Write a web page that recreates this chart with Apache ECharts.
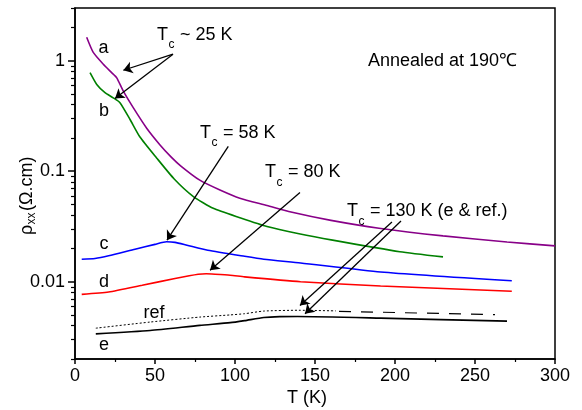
<!DOCTYPE html>
<html><head><meta charset="utf-8">
<script src="https://cdn.jsdelivr.net/npm/echarts@6.0.0/dist/echarts.min.js"></script>
<style>html,body{margin:0;padding:0;background:#fff}#c{width:582px;height:410px}</style>
</head><body><div id="c"></div>
<script>
const FONT = 'Liberation Sans, Arial, sans-serif';

// tick values
const yMajorTicks = [0.01, 0.1, 1];
const yMinorTicks = [0.002,0.003,0.004,0.005,0.006,0.007,0.008,0.009,
  0.02,0.03,0.04,0.05,0.06,0.07,0.08,0.09,
  0.2,0.3,0.4,0.5,0.6,0.7,0.8,0.9,2,3];

// curve a (purple)
const T_a   = [7.3, 11.4, 17.7, 22.9, 26.1, 30.2, 36.4, 44.8, 53, 60, 66, 78, 90.6, 103, 120, 135, 160, 190, 230, 270, 300];
const rho_a = [1.63, 1.19, 0.93, 0.78, 0.70, 0.53, 0.376, 0.245, 0.174, 0.135, 0.112, 0.083, 0.0676, 0.057, 0.049, 0.0427, 0.0359, 0.0305, 0.026, 0.0229, 0.0211];
// curve b (green)
const T_b   = [9.4, 13.6, 18.75, 23.9, 28.1, 34.4, 40.6, 51, 62, 74, 86.4, 103, 120, 140, 161, 203, 230];
const rho_b = [0.78, 0.61, 0.514, 0.462, 0.417, 0.294, 0.204, 0.132, 0.0851, 0.059, 0.0462, 0.038, 0.0316, 0.0272, 0.0238, 0.0187, 0.0168];
// curve c (blue)
const T_c   = [4.2, 12.5, 21, 37.5, 50, 57.3, 62.5, 70, 83, 106, 118, 141, 191, 273];
const rho_c = [0.0160, 0.01626, 0.01718, 0.0197, 0.0218, 0.0230, 0.0227, 0.0214, 0.0193, 0.0170, 0.0160, 0.0148, 0.01227, 0.0102];
// curve d (red)
const T_d   = [4.2, 21, 42, 62.5, 77, 82, 87.5, 97, 106, 141, 191, 273];
const rho_d = [0.00769, 0.00807, 0.00929, 0.0107, 0.0117, 0.0118, 0.0117, 0.01146, 0.01107, 0.0100, 0.00916, 0.0082];
// curve e (black)
const T_e   = [13, 47, 78, 97, 106, 118, 128, 139, 191, 270];
const rho_e = [0.00338, 0.00362, 0.00403, 0.00426, 0.00445, 0.00475, 0.00484, 0.00485, 0.00469, 0.0044];
// ref (dotted part, then dashed part)
const T_refDot   = [13, 47, 78, 97, 106, 118, 140, 163];
const rho_refDot = [0.0038, 0.00432, 0.00479, 0.00501, 0.00514, 0.00543, 0.00552, 0.00545];
const T_refDash   = [165, 262.5];
const rho_refDash = [0.0054, 0.00504];

// annotation arrows [T0, rho0, T1, rho1]
const arrows = [
  [61.25, 1.146, 30.2, 0.82],
  [61.25, 1.146, 25, 0.456],
  [95.8, 0.168, 57.5, 0.0238],
  [140.6, 0.0641, 84.4, 0.01273],
  [198.1, 0.0348, 140.6, 0.0061],
  [203.75, 0.0355, 143.75, 0.00514]
];

const zip = (xs, ys) => xs.map((x, i) => [x, ys[i]]);

function line(data, color, extra) {
  return Object.assign({
    type: 'line', data: data, showSymbol: false, symbol: 'none', smooth: 0.2,
    lineStyle: { color: color, width: 1.6 }, itemStyle: { color: color },
    emphasis: { disabled: true }, silent: true, z: 3
  }, extra || {});
}

function txt(x, y, s, size, align) {
  return { type: 'text', x: x, y: y, style: { text: s, font: (size || 18) + 'px ' + FONT, fill: '#000', textAlign: align || 'left', textVerticalAlign: 'middle' } };
}
function tc(left, y, rest) {
  return [txt(left, y, 'T'), txt(left + 11.5, y + 10, 'c', 12), txt(left + 23, y, rest)];
}

const chart = echarts.init(document.getElementById('c'));
chart.setOption({
  animation: false,
  backgroundColor: '#fff',
  grid: { left: 75, right: 27, top: 8, height: 351, show: true, borderColor: '#000', borderWidth: 1.5, backgroundColor: 'transparent' },
  xAxis: {
    type: 'value', min: 0, max: 300, interval: 50,
    axisLine: { onZero: false, lineStyle: { color: '#000', width: 1.5 } },
    axisTick: { inside: false, length: 5, lineStyle: { color: '#000', width: 1.5 } },
    minorTick: { show: true, splitNumber: 2, length: 3, lineStyle: { color: '#000', width: 1.2 } },
    axisLabel: { color: '#000', fontSize: 18, fontFamily: FONT, margin: 8 },
    splitLine: { show: false }
  },
  yAxis: [{
    type: 'log', logBase: 10, min: 0.002, max: 3, position: 'left',
    axisLine: { show: true, onZero: false, lineStyle: { color: '#000', width: 1.5 } },
    axisTick: { show: true, inside: false, length: 7, customValues: yMajorTicks, lineStyle: { color: '#000', width: 1.5 } },
    axisLabel: { customValues: yMajorTicks, color: '#000', fontSize: 18, fontFamily: FONT, margin: 10,
      formatter: v => String(+(+v).toPrecision(3)) },
    splitLine: { show: false }, minorTick: { show: false }
  }, {
    type: 'log', logBase: 10, min: 0.002, max: 3, position: 'left',
    axisLine: { show: false },
    axisTick: { show: true, inside: false, length: 4, customValues: yMinorTicks, lineStyle: { color: '#000', width: 1.2 } },
    axisLabel: { show: false },
    splitLine: { show: false }
  }],
  series: [
    line(zip(T_a, rho_a), '#880088'),
    line(zip(T_b, rho_b), '#008000'),
    line(zip(T_c, rho_c), '#0000FF'),
    line(zip(T_d, rho_d), '#FF0000'),
    line(zip(T_refDot, rho_refDot), '#000', { lineStyle: { color: '#000', width: 1, type: [2, 2] } }),
    line(zip(T_refDash, rho_refDash), '#000', { smooth: false, lineStyle: { color: '#000', width: 1.2, type: [12, 10] } }),
    line(zip(T_e, rho_e), '#000', {
      lineStyle: { color: '#000', width: 1.7 },
      markLine: {
        silent: true, animation: false, symbol: ['none', 'arrow'], symbolSize: 9,
        label: { show: false }, emphasis: { disabled: true },
        lineStyle: { color: '#000', width: 1.3, type: 'solid' },
        data: arrows.map(a => [{ coord: [a[0], a[1]] }, { coord: [a[2], a[3]] }])
      }
    })
  ],
  graphic: [
    txt(103.5, 48.5, 'a', 18, 'center'),
    txt(104, 111.5, 'b', 18, 'center'),
    txt(104, 244.5, 'c', 18, 'center'),
    txt(104, 282.5, 'd', 18, 'center'),
    txt(154, 313, 'ref', 18, 'center'),
    txt(104, 345, 'e', 18, 'center'),
    ...tc(157, 35, '~ 25 K'),
    ...tc(200, 133, '= 58 K'),
    ...tc(265, 172.5, '= 80 K'),
    ...tc(347, 211.5, '= 130 K (e & ref.)'),
    txt(368, 61, 'Annealed at 190℃', 18, 'left'),
    txt(307, 398, 'T (K)', 18, 'center'),
    { type: 'group', x: 27, y: 235, rotation: Math.PI / 2, children: [
      txt(0, 0, 'ρ', 18), txt(10.5, 5, 'xx', 12), txt(24, 0, '(Ω.cm)', 18)
    ] }
  ]
});
</script></body></html>
